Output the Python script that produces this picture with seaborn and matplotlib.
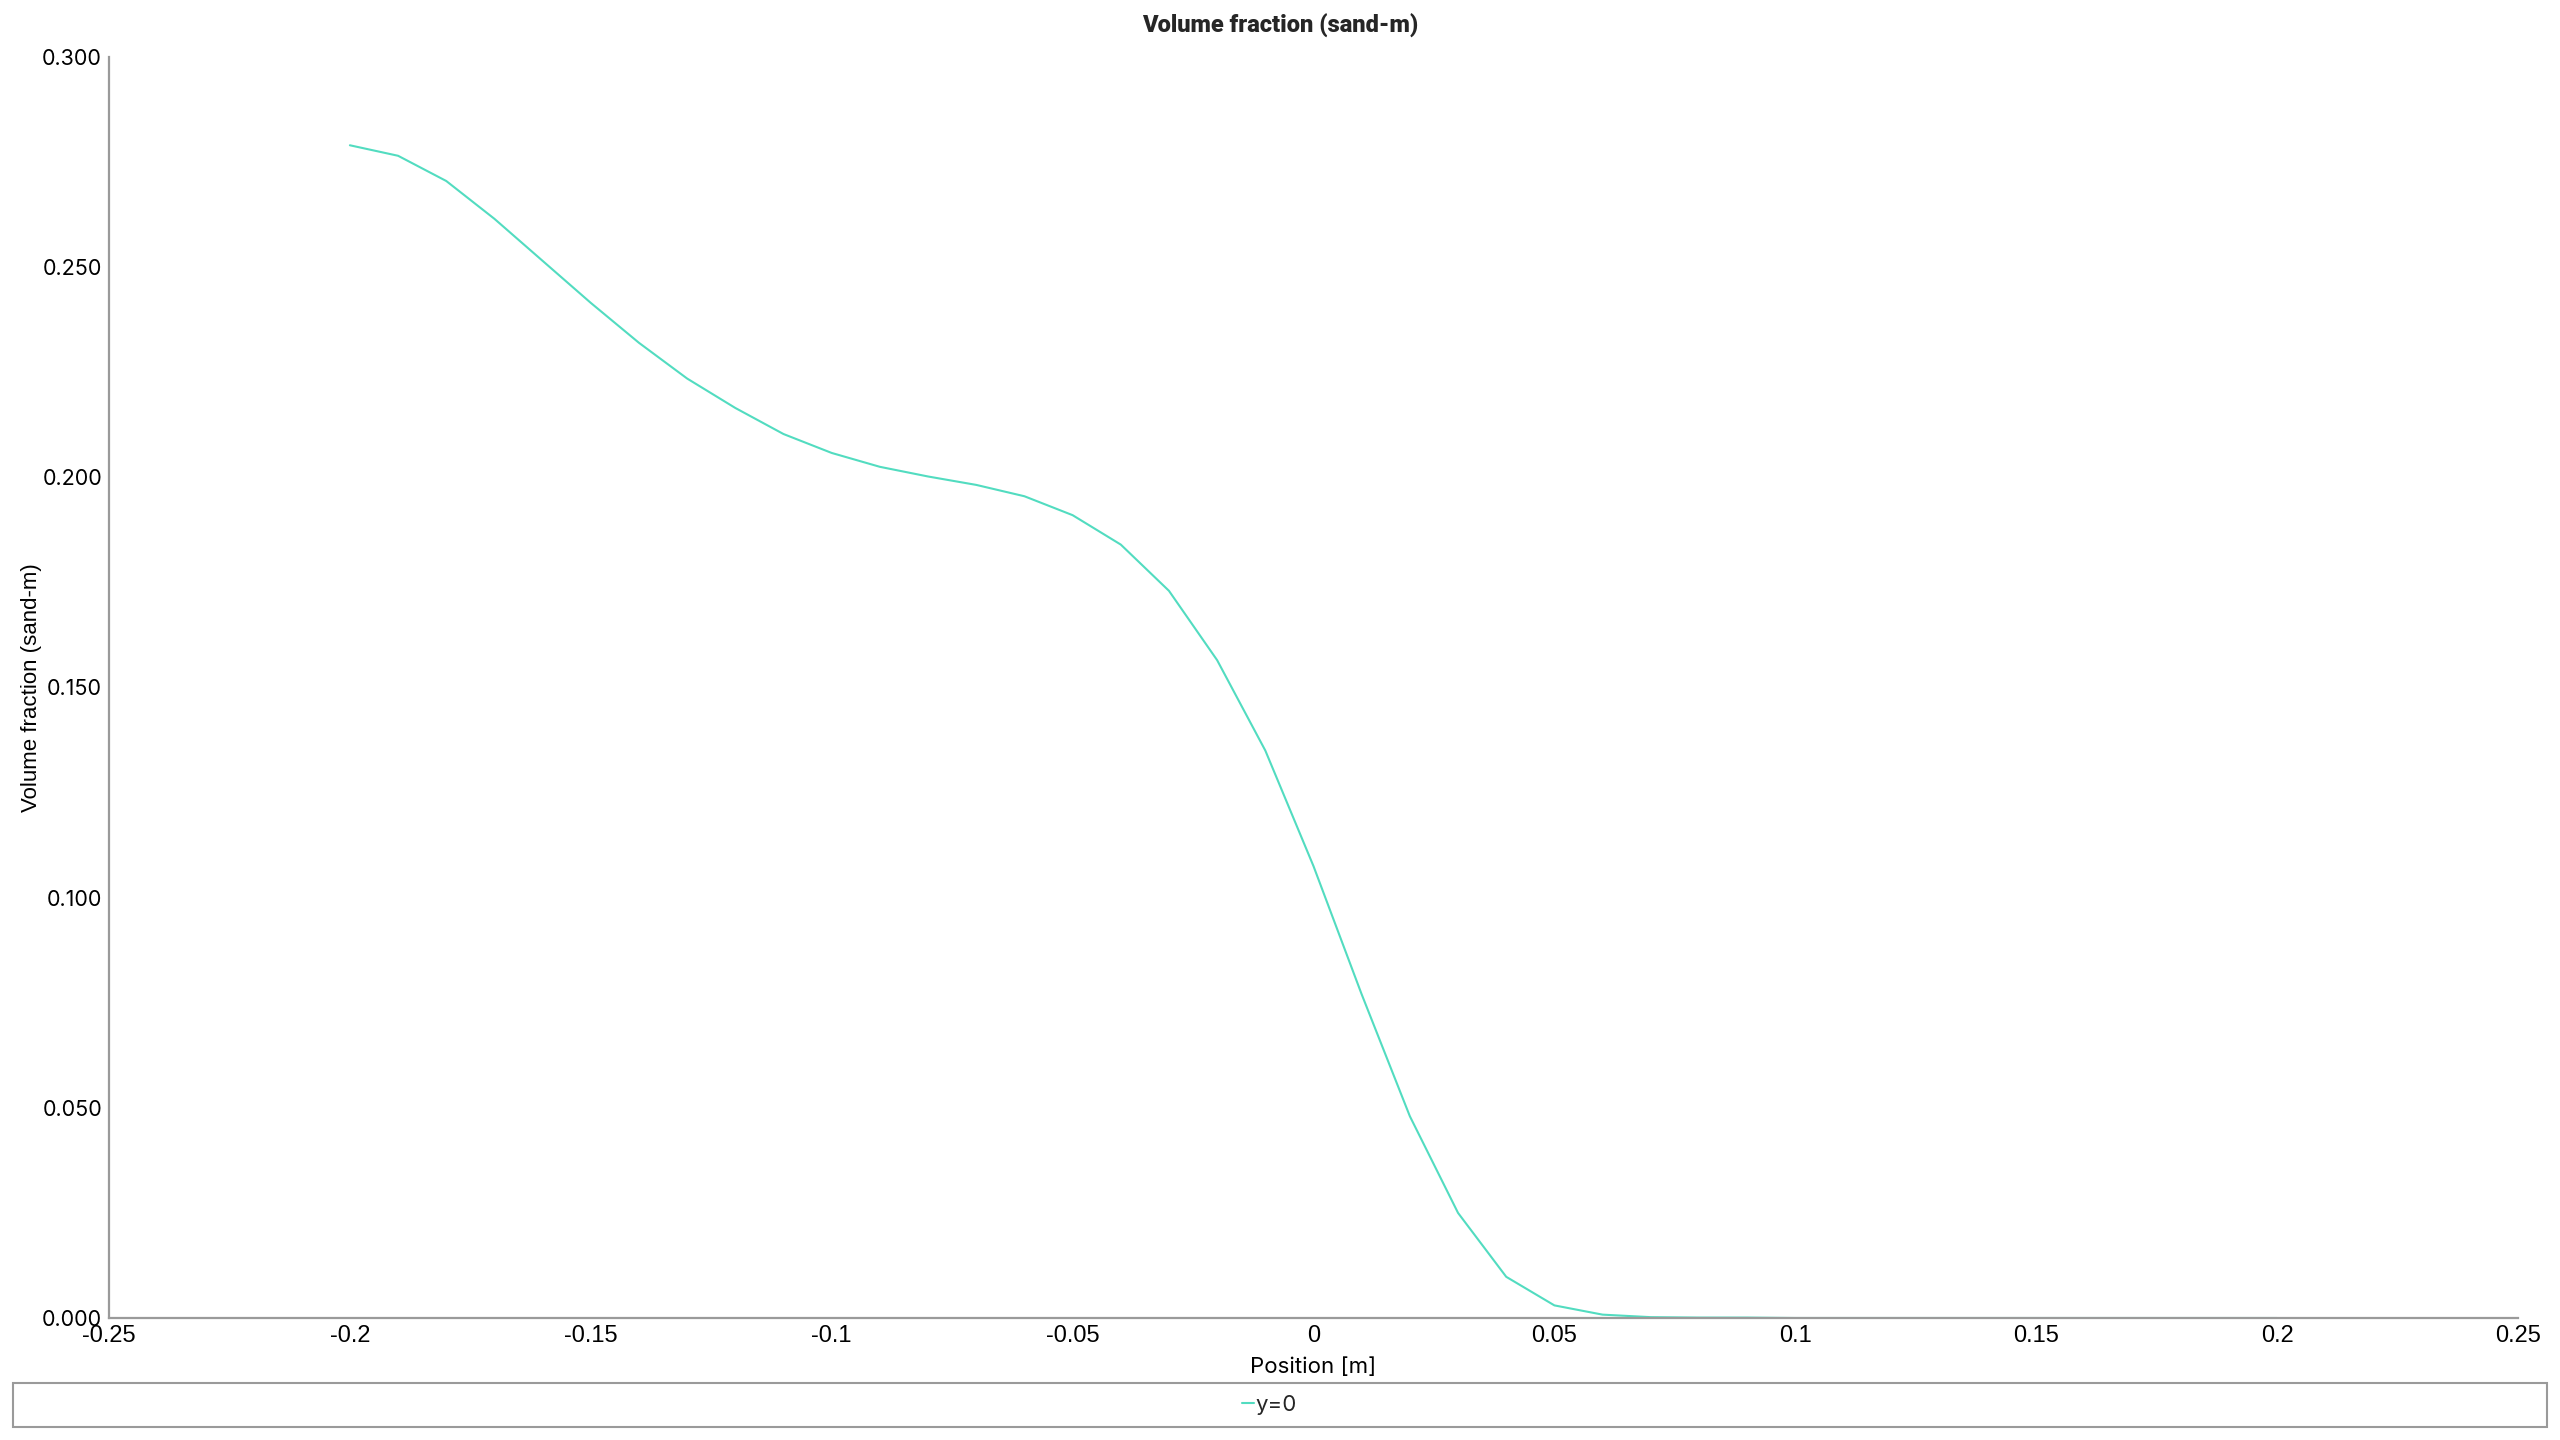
import numpy as np
import pandas as pd
import matplotlib
matplotlib.use("Agg")
import matplotlib.pyplot as plt
import matplotlib.ticker as mticker
from matplotlib.patches import Rectangle
import seaborn as sns

# data
position = [-0.20, -0.19, -0.18, -0.17, -0.16, -0.15, -0.14, -0.13, -0.12, -0.11,
            -0.10, -0.09, -0.08, -0.07, -0.06, -0.05, -0.04, -0.03, -0.02, -0.01,
            0.00, 0.01, 0.02, 0.03, 0.04, 0.05, 0.06, 0.07, 0.08, 0.09,
            0.10, 0.11, 0.12, 0.13, 0.14, 0.15, 0.16, 0.17, 0.18, 0.19, 0.20]
volume_fraction = [0.2790, 0.2765, 0.2705, 0.2615, 0.2515, 0.2415, 0.2320, 0.2235, 0.2165, 0.2103,
                   0.2058, 0.2025, 0.2002, 0.1982, 0.1955, 0.1910, 0.1840, 0.1730, 0.1565, 0.1350,
                   0.1075, 0.0770, 0.0480, 0.0250, 0.0098, 0.0030, 0.0008, 0.0002, 0.0001, 0.0001,
                   0.0, 0.0, 0.0, 0.0, 0.0, 0.0, 0.0, 0.0, 0.0, 0.0, 0.0]
series_name = "y=0"
x_ticks = [-0.25, -0.2, -0.15, -0.1, -0.05, 0, 0.05, 0.1, 0.15, 0.2, 0.25]
y_ticks = [0.0, 0.05, 0.1, 0.15, 0.2, 0.25, 0.3]

df = pd.DataFrame({"Position": position, "Value": volume_fraction, "series": series_name})

sns.set_theme(style="white")
plt.rcParams['font.family'] = ['Inter', 'DejaVu Sans']

line_color = "#52DCC0"
axis_color = "#9a9a9a"

fig = plt.figure(figsize=(25.6, 14.4), dpi=100)
ax = fig.add_axes([109 / 2560, 1 - 1318 / 1440, (2518 - 109) / 2560, (1318 - 57) / 1440])

sns.lineplot(data=df, x="Position", y="Value", hue="series", palette=[line_color],
             linewidth=1.5, ax=ax, legend=False)

ax.set_xlim(-0.25, 0.25)
ax.set_ylim(0.0, 0.3)
ax.set_xticks(x_ticks)
ax.set_yticks(y_ticks)
ax.xaxis.set_minor_locator(mticker.MultipleLocator(0.025))
ax.yaxis.set_minor_locator(mticker.MultipleLocator(0.025))
ax.xaxis.set_major_formatter(mticker.FuncFormatter(lambda v, p: f"{v:g}"))
ax.yaxis.set_major_formatter(mticker.FormatStrFormatter("%.3f"))

for side in ["top", "right"]:
    ax.spines[side].set_visible(False)
for side in ["left", "bottom"]:
    ax.spines[side].set_color(axis_color)
    ax.spines[side].set_linewidth(1.6)

ax.tick_params(axis="both", which="both", direction="out", color=axis_color, width=1.2)
ax.tick_params(axis="both", which="major", length=4, pad=1, labelsize=15.5, labelcolor="black")
ax.tick_params(axis="both", which="minor", length=3)
for lbl in ax.get_xticklabels():
    lbl.set_family(['Liberation Sans Narrow', 'Liberation Sans', 'DejaVu Sans'])
    lbl.set_fontsize(17)

ax.set_xlabel("Position [m]", fontsize=16, labelpad=7, color="black")
ax.set_ylabel("Volume fraction (sand-m)", fontsize=16, labelpad=0, color="black",
              family=['Liberation Sans', 'DejaVu Sans'])
fig.text(0.5, 1 - 26 / 1440, "Volume fraction (sand-m)", ha="center", va="center",
         fontsize=17, fontweight="black", family=['Roboto', 'DejaVu Sans'])

# legend strip at the bottom
fig.patches.append(Rectangle((13 / 2560, 1 - 1427 / 1440), (2547 - 13) / 2560, 44 / 1440,
                             transform=fig.transFigure, fill=False, edgecolor=axis_color,
                             linewidth=1.5))
handle = plt.Line2D([], [], color=line_color, linewidth=1.5)
fig.legend([handle], [series_name], loc="center", bbox_to_anchor=(0.496, 1 - 1405 / 1440),
           frameon=False, fontsize=16, handlelength=0.5, handletextpad=0.1)

fig.savefig("out.png", dpi=100)
